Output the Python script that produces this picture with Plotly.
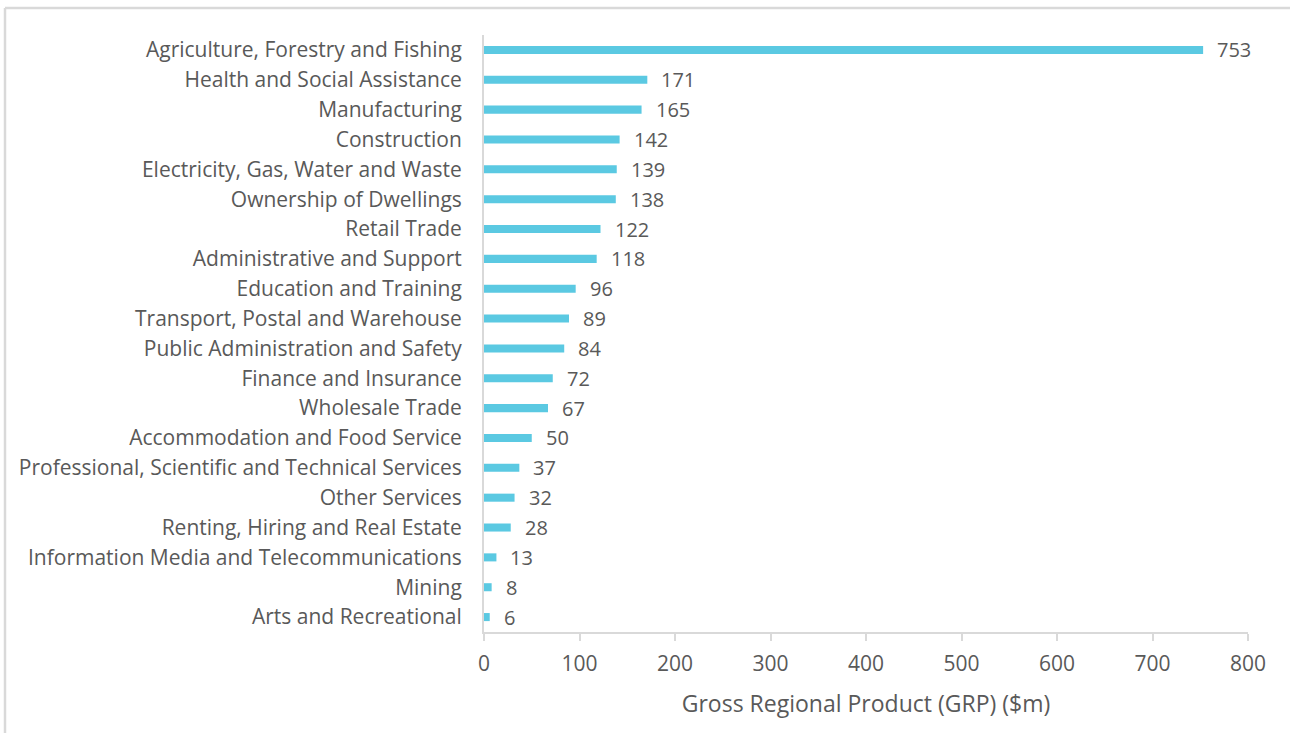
import plotly.graph_objects as go

categories = [
    "Agriculture, Forestry and Fishing",
    "Health and Social Assistance",
    "Manufacturing",
    "Construction",
    "Electricity, Gas, Water and Waste",
    "Ownership of Dwellings",
    "Retail Trade",
    "Administrative and Support",
    "Education and Training",
    "Transport, Postal and Warehouse",
    "Public Administration and Safety",
    "Finance and Insurance",
    "Wholesale Trade",
    "Accommodation and Food Service",
    "Professional, Scientific and Technical Services",
    "Other Services",
    "Renting, Hiring and Real Estate",
    "Information Media and Telecommunications",
    "Mining",
    "Arts and Recreational",
]
values = [753, 171, 165, 142, 139, 138, 122, 118, 96, 89, 84, 72, 67, 50, 37, 32, 28, 13, 8, 6]
x_ticks = [0, 100, 200, 300, 400, 500, 600, 700, 800]
x_title = "Gross Regional Product (GRP) ($m)"

FONT = "Open Sans"
GREY = "#595959"
BAR = "#5BC9E2"
LINE = "#D9D9D9"

L, R, T, B = 484, 42, 35, 101
W, H = 1290, 733
PW, PH = W - L - R, H - T - B

fig = go.Figure()
fig.add_trace(go.Bar(
    x=values, y=categories, orientation="h",
    marker=dict(color=BAR, line=dict(width=0)),
    width=0.27, hoverinfo="x+y",
))

for c, v in zip(categories, values):
    fig.add_annotation(x=v, y=c, text=str(v), showarrow=False,
                       xanchor="left", yanchor="middle", xshift=12, yshift=0,
                       font=dict(family=FONT, size=20, color=GREY))

fig.update_layout(
    width=W, height=H,
    margin=dict(l=L, r=R, t=T, b=B),
    paper_bgcolor="white", plot_bgcolor="white",
    showlegend=False,
    font=dict(family=FONT, size=20, color=GREY),
    xaxis=dict(range=[0, 800], tickvals=x_ticks, showgrid=False, zeroline=False,
               showline=True, linecolor=LINE, linewidth=2,
               ticks="outside", ticklen=7, tickcolor=LINE, tickwidth=2,
               ticklabelstandoff=5,
               tickfont=dict(family=FONT, size=21, color=GREY),
               title=dict(text=x_title, font=dict(family=FONT, size=23, color=GREY), standoff=20)),
    yaxis=dict(categoryorder="array", categoryarray=categories[::-1],
               range=[-0.5, len(categories) - 0.5],
               showgrid=False, zeroline=False, showline=True, linecolor=LINE, linewidth=2,
               ticks="", ticklabelstandoff=16,
               tickfont=dict(family=FONT, size=21, color=GREY)),
    shapes=[
        dict(type="line", xref="paper", yref="paper", x0=(5 - L) / PW, x1=(W - L) / PW,
             y0=(H - B - 8) / PH, y1=(H - B - 8) / PH,
             line=dict(color=LINE, width=2.5)),
        dict(type="line", xref="paper", yref="paper", x0=(5 - L) / PW, x1=(5 - L) / PW,
             y0=-B / PH, y1=(H - B - 8) / PH, line=dict(color=LINE, width=2.5)),
    ],
)

fig.write_html("out.html", config={"displayModeBar": False},
               post_script="document.body.style.margin='0';")
